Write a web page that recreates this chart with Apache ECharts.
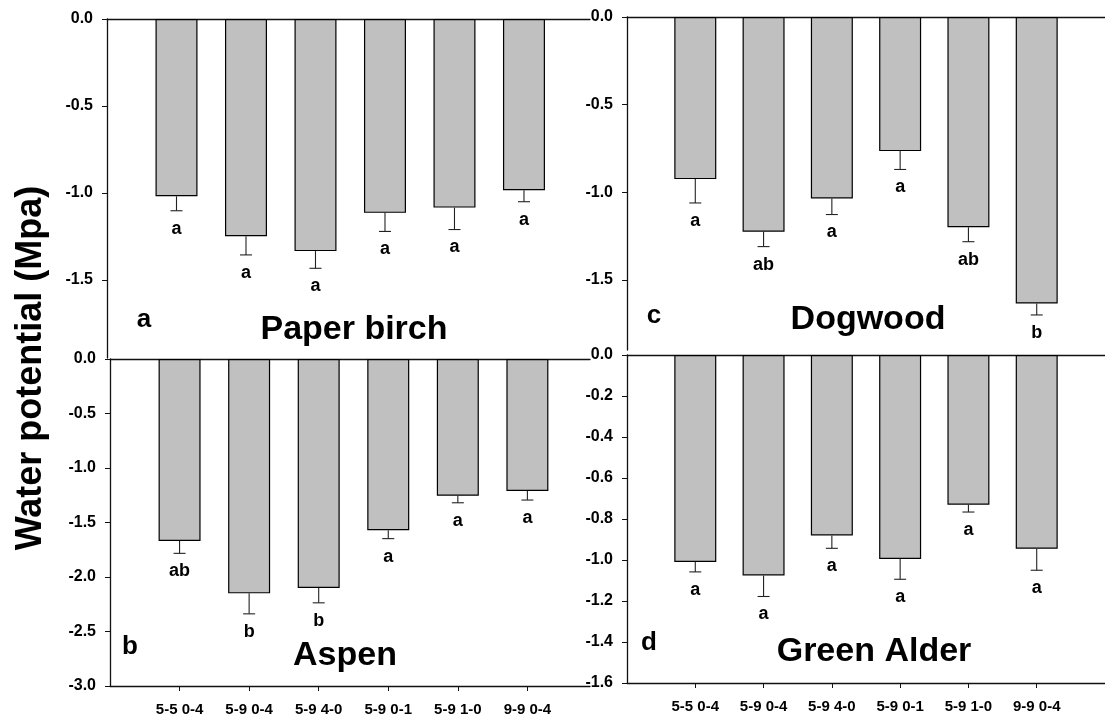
<!DOCTYPE html>
<html>
<head>
<meta charset="utf-8">
<title>Water potential</title>
<script src="https://cdn.jsdelivr.net/npm/echarts@6/dist/echarts.min.js"></script>
<style>
  html, body { margin: 0; padding: 0; background: #fff; }
  #chart { width: 1105px; height: 721px; }
</style>
</head>
<body>
<div id="chart"></div>
<script>
// Treatment groups along the x axis
const categories = ['5-5 0-4', '5-9 0-4', '5-9 4-0', '5-9 0-1', '5-9 1-0', '9-9 0-4'];

// Paper birch
const birchMean    = [-1.02, -1.25, -1.335, -1.115, -1.085, -0.985];
const birchSE      = [0.083, 0.107, 0.099, 0.107, 0.126, 0.066];
const birchLetters = ['a', 'a', 'a', 'a', 'a', 'a'];

// Aspen
const aspenMean    = [-1.67, -2.15, -2.10, -1.57, -1.255, -1.21];
const aspenSE      = [0.113, 0.188, 0.137, 0.078, 0.064, 0.084];
const aspenLetters = ['ab', 'b', 'b', 'a', 'a', 'a'];

// Dogwood
const dogwoodMean    = [-0.925, -1.225, -1.035, -0.765, -1.20, -1.635];
const dogwoodSE      = [0.136, 0.085, 0.092, 0.105, 0.082, 0.065];
const dogwoodLetters = ['a', 'ab', 'a', 'a', 'ab', 'b'];

// Green alder
const alderMean    = [-1.01, -1.075, -0.88, -0.995, -0.73, -0.945];
const alderSE      = [0.048, 0.103, 0.063, 0.099, 0.036, 0.105];
const alderLetters = ['a', 'a', 'a', 'a', 'a', 'a'];

// Y tick labels per panel
const birchTicks   = [0, -0.5, -1.0, -1.5];
const dogwoodTicks = [0, -0.5, -1.0, -1.5];

const FONT = '"Liberation Sans", Arial, Helvetica, sans-serif';
const AXIS_COLOR = '#111';
const positions = categories.map((c, i) => i + 1);

const panels = [
  { mean: birchMean, se: birchSE, letters: birchLetters,
    grid: { left: 107, top: 19, width: 483, height: 339 },
    xMax: 6.95, yMin: -1.95, yTicks: birchTicks, showX: false },
  { mean: aspenMean, se: aspenSE, letters: aspenLetters,
    grid: { left: 110, top: 359, width: 480, height: 327 },
    xMax: 6.9, yMin: -3.0, yInterval: 0.5, showX: true },
  { mean: dogwoodMean, se: dogwoodSE, letters: dogwoodLetters,
    grid: { left: 627, top: 17, width: 487, height: 333 },
    xMax: 7, yMin: -1.9, yTicks: dogwoodTicks, showX: false },
  { mean: alderMean, se: alderSE, letters: alderLetters,
    grid: { left: 627, top: 355, width: 487, height: 328 },
    xMax: 7, yMin: -1.6, yInterval: 0.2, showX: true }
];

const grids = [], xAxes = [], yAxes = [], series = [];

panels.forEach((p, k) => {
  grids.push(Object.assign({ containLabel: false }, p.grid));

  // bottom axis: treatment labels on the lower panels only
  xAxes.push({
    type: 'value', gridIndex: k, position: 'bottom', min: 0, max: p.xMax,
    splitLine: { show: false },
    axisLine: { show: p.showX, onZero: false, lineStyle: { color: AXIS_COLOR, width: 1.3 } },
    axisTick: { show: p.showX, customValues: positions, length: 5, inside: false,
                lineStyle: { color: AXIS_COLOR, width: 1 } },
    axisLabel: { show: p.showX, customValues: positions, margin: 16,
                 formatter: v => categories[Math.round(v) - 1] || '',
                 color: '#000', fontFamily: FONT, fontWeight: 'bold', fontSize: 15 }
  });
  // top line at zero
  xAxes.push({
    type: 'value', gridIndex: k, position: 'top', min: 0, max: p.xMax,
    splitLine: { show: false },
    axisLine: { show: true, onZero: false, lineStyle: { color: AXIS_COLOR, width: 1.3 } },
    axisTick: { show: false }, axisLabel: { show: false }
  });

  const y = {
    type: 'value', gridIndex: k, min: p.yMin, max: 0,
    splitLine: { show: false },
    axisLine: { show: true, onZero: false, lineStyle: { color: AXIS_COLOR, width: 1.3 } },
    axisTick: { show: true, length: 5, lineStyle: { color: AXIS_COLOR, width: 1 } },
    axisLabel: { margin: 14, formatter: v => (Math.abs(v) < 1e-9 ? 0 : v).toFixed(1),
                 color: '#000', fontFamily: FONT, fontWeight: 'bold', fontSize: 16 }
  };
  if (p.yTicks) {
    y.axisTick.customValues = p.yTicks;
    y.axisLabel.customValues = p.yTicks;
  } else {
    y.interval = p.yInterval;
  }
  yAxes.push(y);

  series.push({
    type: 'bar', xAxisIndex: 2 * k, yAxisIndex: k,
    barWidth: 42, silent: true,
    itemStyle: { color: '#c0c0c0', borderColor: '#000', borderWidth: 1.2 },
    data: p.mean.map((v, i) => [positions[i], v])
  });

  // downward error bars with significance letters beneath
  series.push({
    type: 'custom', xAxisIndex: 2 * k, yAxisIndex: k, z: 5, silent: true,
    data: p.mean.map((v, i) => [positions[i], v, p.se[i]]),
    renderItem: (params, api) => {
      const x = api.value(0), m = api.value(1), e = api.value(2);
      const a = api.coord([x, m]);
      const b = api.coord([x, m - e]);
      const line = { stroke: '#222', lineWidth: 1.1 };
      return {
        type: 'group',
        children: [
          { type: 'line', shape: { x1: a[0], y1: a[1], x2: b[0], y2: b[1] }, style: line },
          { type: 'line', shape: { x1: b[0] - 6, y1: b[1], x2: b[0] + 6, y2: b[1] }, style: line },
          { type: 'text', style: {
              text: p.letters[params.dataIndex], x: b[0], y: b[1] + 18,
              align: 'center', verticalAlign: 'middle',
              font: 'bold 18px ' + FONT, fill: '#000' } }
        ]
      };
    }
  });
});

function label(text, x, y, size) {
  return { type: 'text', x: x, y: y, silent: true,
    style: { text: text, align: 'center', verticalAlign: 'middle',
             font: 'bold ' + size + 'px ' + FONT, fill: '#000' } };
}

const chart = echarts.init(document.getElementById('chart'), null, { renderer: 'canvas' });
chart.setOption({
  animation: false,
  backgroundColor: '#fff',
  grid: grids,
  xAxis: xAxes,
  yAxis: yAxes,
  series: series,
  graphic: [
    label('a', 144, 320, 26),
    label('Paper birch', 354, 330, 34),
    label('b', 130, 647, 26),
    label('Aspen', 345, 656, 34),
    label('c', 654, 316, 26),
    label('Dogwood', 868, 320, 34),
    label('d', 649, 643, 26),
    label('Green Alder', 874, 652, 34),
    { type: 'text', x: 31, y: 368, rotation: Math.PI / 2, silent: true,
      style: { text: 'Water potential (Mpa)', align: 'center', verticalAlign: 'middle',
               font: 'bold 36px ' + FONT, fill: '#000' } }
  ]
});
</script>
</body>
</html>
